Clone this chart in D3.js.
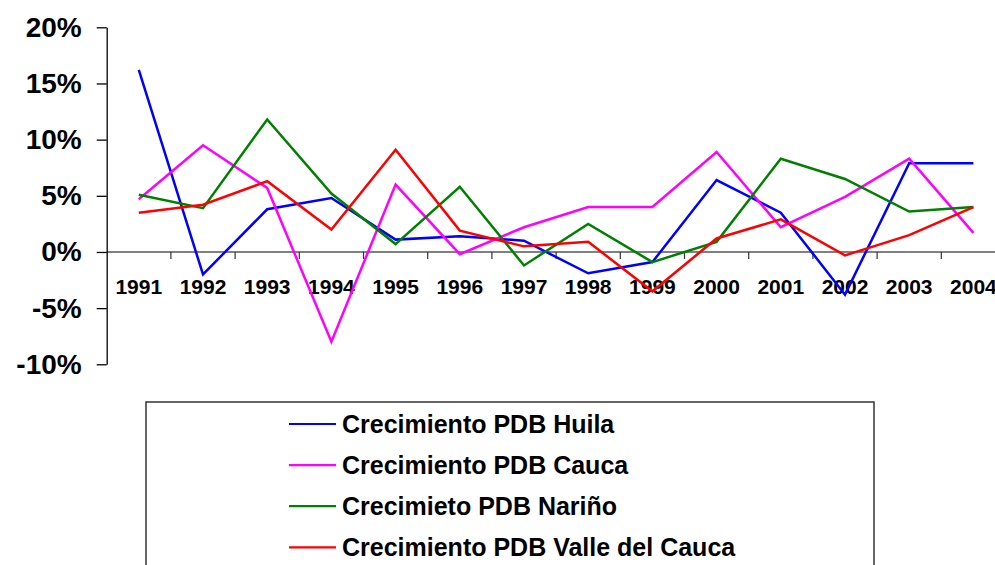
<!DOCTYPE html>
<html>
<head>
<meta charset="utf-8">
<script src="https://cdn.jsdelivr.net/npm/d3@7"></script>
<style>
  body { margin: 0; background: #fff; }
  text { font-family: Arial, "Liberation Sans", sans-serif; font-weight: bold; }
</style>
</head>
<body>
<div id="chart"></div>
<script>
// data (growth rates, %)
var years = [1991, 1992, 1993, 1994, 1995, 1996, 1997, 1998, 1999, 2000, 2001, 2002, 2003, 2004];
var huila = [16.2, -2.0, 3.8, 4.8, 1.1, 1.4, 1.0, -1.9, -0.9, 6.4, 3.5, -3.8, 7.9, 7.9];
var cauca = [4.7, 9.5, 5.7, -8.0, 6.0, -0.2, 2.2, 4.0, 4.0, 8.9, 2.2, 4.9, 8.3, 1.7];
var narino = [5.1, 3.9, 11.8, 5.2, 0.7, 5.8, -1.2, 2.5, -0.9, 0.9, 8.3, 6.5, 3.6, 4.0];
var valle = [3.5, 4.2, 6.3, 2.0, 9.1, 1.9, 0.5, 0.9, -3.5, 1.2, 2.9, -0.3, 1.5, 4.0];
var yTicks = [-10, -5, 0, 5, 10, 15, 20];

var seriesNames = ["Crecimiento PDB Huila", "Crecimiento PDB Cauca", "Crecimieto PDB Nariño", "Crecimiento PDB Valle del Cauca"];
var seriesColors = ["#0000FF", "#FF00FF", "#008000", "#FF0000"];
var seriesValues = [huila, cauca, narino, valle];

// plot area
var W = 995, H = 565;
var plotLeft = 106.7, plotTop = 27.3, plotBottom = 364.3, band = 64.2;

var svg = d3.select("#chart")
  .append("svg")
    .attr("width", W)
    .attr("height", H);

// scales
var x = d3.scaleBand()
  .domain(years)
  .range([plotLeft, plotLeft + band * years.length])
  .padding(0);

var y = d3.scaleLinear()
  .domain([-10, 20])
  .range([plotBottom, plotTop]);

// zero line (category axis)
var y0 = y(0);
svg.append("line")
  .attr("x1", plotLeft).attr("x2", W)
  .attr("y1", y0).attr("y2", y0)
  .style("stroke", "#808080")
  .style("stroke-width", 2);

// category tick marks between bands
svg.append("g")
  .selectAll("line")
  .data(years.slice(1))
  .enter()
  .append("line")
    .attr("x1", function(d) { return x(d); })
    .attr("x2", function(d) { return x(d); })
    .attr("y1", y0)
    .attr("y2", y0 + 7)
    .style("stroke", "#333")
    .style("stroke-width", 1.2);

// year labels
svg.append("g")
  .selectAll("text")
  .data(years)
  .enter()
  .append("text")
    .attr("x", function(d) { return x(d) + x.bandwidth() / 2; })
    .attr("y", 294)
    .attr("text-anchor", "middle")
    .style("font-size", "21px")
    .text(function(d) { return d; });

// Y axis
var yAxis = svg.append("g")
  .attr("transform", "translate(" + plotLeft + ",0)")
  .call(d3.axisLeft(y)
    .tickValues(yTicks)
    .tickSize(10)
    .tickSizeOuter(0)
    .tickPadding(15)
    .tickFormat(function(d) { return d + "%"; }));
yAxis.select(".domain").style("stroke", "#000").style("stroke-width", 1.3);
yAxis.selectAll(".tick line").style("stroke", "#000").style("stroke-width", 1.3);
yAxis.selectAll(".tick text")
  .style("font-size", "28px")
  .style("font-family", "Arial, 'Liberation Sans', sans-serif")
  .style("font-weight", "bold")
  .attr("fill", "#000");

// lines
var line = d3.line()
  .x(function(d, i) { return x(years[i]) + x.bandwidth() / 2; })
  .y(function(d) { return y(d); });

svg.append("g")
  .selectAll("path")
  .data(seriesValues)
  .enter()
  .append("path")
    .attr("d", function(d) { return line(d); })
    .style("fill", "none")
    .style("stroke", function(d, i) { return seriesColors[i]; })
    .style("stroke-width", 2.5)
    .style("stroke-linejoin", "miter");

// legend
svg.append("rect")
  .attr("x", 146)
  .attr("y", 402)
  .attr("width", 728)
  .attr("height", 200)
  .style("fill", "#fff")
  .style("stroke", "#333")
  .style("stroke-width", 1.5);

var legend = svg.append("g")
  .selectAll("g")
  .data(seriesNames)
  .enter()
  .append("g")
    .attr("transform", function(d, i) { return "translate(0," + (424 + i * 41.1) + ")"; });

legend.append("line")
  .attr("x1", 289).attr("x2", 336)
  .attr("y1", 0).attr("y2", 0)
  .style("stroke", function(d, i) { return seriesColors[i]; })
  .style("stroke-width", 2.2);

legend.append("text")
  .attr("x", 342)
  .attr("y", 0)
  .attr("dy", "0.36em")
  .style("font-size", "25px")
  .text(function(d) { return d; });
</script>
</body>
</html>
